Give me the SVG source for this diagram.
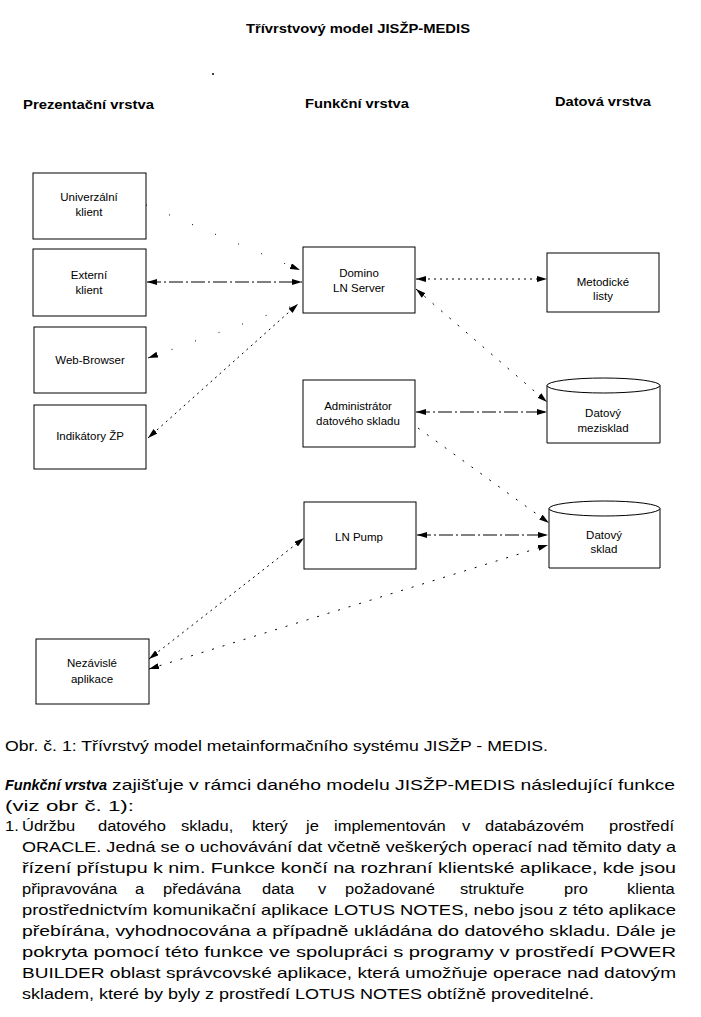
<svg xmlns="http://www.w3.org/2000/svg" width="701" height="1017" viewBox="0 0 701 1017">
<defs>
<marker id="ah" viewBox="0 0 10 6" refX="10" refY="3" markerWidth="10" markerHeight="6" markerUnits="userSpaceOnUse" orient="auto-start-reverse"><path d="M0,0 L10,3 L0,6 z" fill="#000"/></marker>
</defs>
<style>
.box{fill:none;stroke:#000;stroke-width:1}
.lbl{font-family:"Liberation Sans",Arial,sans-serif;font-size:11.5px;text-anchor:middle;fill:#000}
.hdr{font-family:"Liberation Sans",Arial,sans-serif;font-size:13px;font-weight:bold;fill:#000}
.conn{fill:none;stroke:#000;stroke-width:1}
.dash{stroke-dasharray:14 3 2 3}
.dot{stroke-dasharray:2 4}
.sparse{stroke-dasharray:2 9}
.faint{stroke-dasharray:1 24}
.body{font-family:"Liberation Sans",Arial,sans-serif;font-size:15px;fill:#000}
.bi{font-weight:bold;font-style:italic}
</style>
<rect width="701" height="1017" fill="#fff"/>

<g id="title">
<text class="hdr" x="246" y="33" textLength="224" lengthAdjust="spacingAndGlyphs">Třívrstvový model JISŽP-MEDIS</text>
<circle cx="213" cy="74" r="1" fill="#000"/>
</g>
<g id="headers">
<text class="hdr" x="23" y="109" textLength="131" lengthAdjust="spacingAndGlyphs">Prezentační vrstva</text>
<text class="hdr" x="305" y="108" textLength="104" lengthAdjust="spacingAndGlyphs">Funkční vrstva</text>
<text class="hdr" x="555" y="106" textLength="96" lengthAdjust="spacingAndGlyphs">Datová vrstva</text>
</g>

<g id="connectors">
<line class="conn dash" x1="147" y1="282" x2="302" y2="282" marker-start="url(#ah)" marker-end="url(#ah)"/>
<line class="conn faint" x1="146" y1="205" x2="300" y2="270" marker-end="url(#ah)"/>
<line class="conn faint" x1="148" y1="358" x2="298" y2="304" marker-start="url(#ah)"/>
<line class="conn dot" x1="148" y1="438" x2="298" y2="304" marker-start="url(#ah)" marker-end="url(#ah)"/>
<line class="conn dot" x1="416" y1="279" x2="547" y2="279" marker-start="url(#ah)" marker-end="url(#ah)"/>
<line class="conn sparse" x1="416" y1="289" x2="547" y2="402" marker-start="url(#ah)" marker-end="url(#ah)"/>
<line class="conn dash" x1="416" y1="412" x2="547" y2="412" marker-start="url(#ah)" marker-end="url(#ah)"/>
<line class="conn sparse" x1="418" y1="428" x2="549" y2="523" marker-end="url(#ah)"/>
<line class="conn dash" x1="417" y1="535" x2="548" y2="535" marker-start="url(#ah)" marker-end="url(#ah)"/>
<line class="conn sparse" x1="149" y1="669" x2="548" y2="545" marker-start="url(#ah)" marker-end="url(#ah)"/>
<line class="conn dot" x1="149" y1="659" x2="304" y2="538" marker-start="url(#ah)" marker-end="url(#ah)"/>
</g>

<g id="univ"><rect class="box" x="33" y="173" width="113" height="66"/><text class="lbl" x="89" y="201">Univerzální</text><text class="lbl" x="89" y="216">klient</text></g>
<g id="ext"><rect class="box" x="33" y="249" width="113" height="67"/><text class="lbl" x="89" y="279">Externí</text><text class="lbl" x="89" y="294">klient</text></g>
<g id="web"><rect class="box" x="34" y="327" width="112" height="66"/><text class="lbl" x="90" y="364">Web-Browser</text></g>
<g id="ind"><rect class="box" x="34" y="405" width="112" height="64"/><text class="lbl" x="90" y="440">Indikátory ŽP</text></g>
<g id="nez"><rect class="box" x="36" y="639" width="113" height="65"/><text class="lbl" x="92" y="667">Nezávislé</text><text class="lbl" x="92" y="683">aplikace</text></g>

<g id="domino"><rect class="box" x="303" y="247" width="112" height="66"/><text class="lbl" x="359" y="277">Domino</text><text class="lbl" x="359" y="292">LN Server</text></g>
<g id="admin"><rect class="box" x="303" y="380" width="112" height="67"/><text class="lbl" x="358" y="410">Administrátor</text><text class="lbl" x="358" y="425">datového skladu</text></g>
<g id="pump"><rect class="box" x="304" y="502" width="112" height="67"/><text class="lbl" x="359" y="541">LN Pump</text></g>

<g id="metod"><rect class="box" x="547" y="253" width="112" height="59"/><text class="lbl" x="603" y="286">Metodické</text><text class="lbl" x="603" y="300">listy</text></g>
<g id="mezi"><path class="box" d="M547,385.5 A56.5,7.5 0 0 1 660,385.5 A56.5,7.5 0 0 1 547,385.5 M547,385.5 V443 H660 V385.5"/><text class="lbl" x="603" y="417">Datový</text><text class="lbl" x="603" y="432">mezisklad</text></g>
<g id="sklad"><path class="box" d="M549,508.5 A55.5,7.5 0 0 1 660,508.5 A55.5,7.5 0 0 1 549,508.5 M549,508.5 V568 H660 V508.5"/><text class="lbl" x="604" y="539">Datový</text><text class="lbl" x="604" y="553">sklad</text></g>

<g id="caption">
<text class="body" x="5" y="751" textLength="543" lengthAdjust="spacingAndGlyphs">Obr. č. 1: Třívrstvý model metainformačního systému JISŽP - MEDIS.</text>
</g>
<g id="paragraph">
<text class="body bi" x="5" y="790" textLength="102" lengthAdjust="spacingAndGlyphs">Funkční vrstva</text>
<text class="body" x="112" y="790" textLength="563" lengthAdjust="spacingAndGlyphs">zajišťuje v rámci daného modelu JISŽP-MEDIS následující funkce</text>
<text class="body" x="5" y="811" textLength="129" lengthAdjust="spacingAndGlyphs">(viz obr č. 1):</text>
<text class="body" y="831" transform="scale(1.1 1)"><tspan x="4.55">1.</tspan><tspan x="20">Údržbu</tspan><tspan x="89.09">datového</tspan><tspan x="164.55">skladu,</tspan><tspan x="229.09">který</tspan><tspan x="278.18">je</tspan><tspan x="303.64">implementován</tspan><tspan x="420">v</tspan><tspan x="440.91">databázovém</tspan><tspan x="553.64">prostředí</tspan></text>
<text class="body" x="22" y="852" textLength="654" lengthAdjust="spacingAndGlyphs">ORACLE. Jedná se o uchovávání dat včetně veškerých operací nad těmito daty a</text>
<text class="body" x="22" y="873" textLength="654" lengthAdjust="spacingAndGlyphs">řízení přístupu k nim. Funkce končí na rozhraní klientské aplikace, kde jsou</text>
<text class="body" y="894" transform="scale(1.1 1)"><tspan x="20">připravována</tspan><tspan x="122.73">a</tspan><tspan x="148.18">předávána</tspan><tspan x="238.18">data</tspan><tspan x="289.09">v</tspan><tspan x="313.64">požadované</tspan><tspan x="418.18">struktuře</tspan><tspan x="512.73">pro</tspan><tspan x="570">klienta</tspan></text>
<text class="body" x="22" y="915" textLength="654" lengthAdjust="spacingAndGlyphs">prostřednictvím komunikační aplikace LOTUS NOTES, nebo jsou z této aplikace</text>
<text class="body" x="22" y="936" textLength="654" lengthAdjust="spacingAndGlyphs">přebírána, vyhodnocována a případně ukládána do datového skladu. Dále je</text>
<text class="body" x="22" y="957" textLength="654" lengthAdjust="spacingAndGlyphs">pokryta pomocí této funkce ve spolupráci s programy v prostředí POWER</text>
<text class="body" x="22" y="978" textLength="654" lengthAdjust="spacingAndGlyphs">BUILDER oblast správcovské aplikace, která umožňuje operace nad datovým</text>
<text class="body" x="22" y="999" textLength="572" lengthAdjust="spacingAndGlyphs">skladem, které by byly z prostředí LOTUS NOTES obtížně proveditelné.</text>
</g>
</svg>
